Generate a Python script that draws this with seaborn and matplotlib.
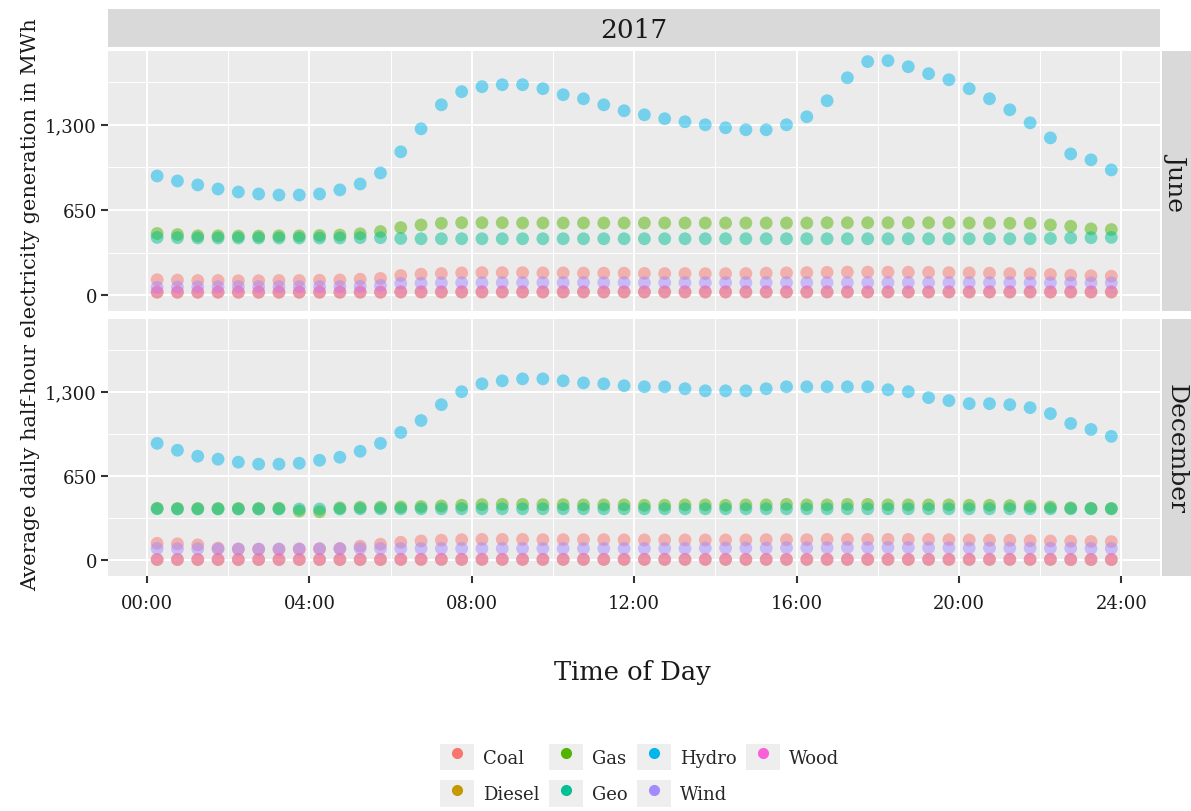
import pandas as pd
import seaborn as sns
import matplotlib.pyplot as plt
from matplotlib.lines import Line2D
from matplotlib.patches import Patch

# half-hour slots (midpoints, in hours)
hours = [0.25, 0.75, 1.25, 1.75, 2.25, 2.75, 3.25, 3.75, 4.25, 4.75, 5.25, 5.75,
         6.25, 6.75, 7.25, 7.75, 8.25, 8.75, 9.25, 9.75, 10.25, 10.75, 11.25, 11.75,
         12.25, 12.75, 13.25, 13.75, 14.25, 14.75, 15.25, 15.75, 16.25, 16.75, 17.25, 17.75,
         18.25, 18.75, 19.25, 19.75, 20.25, 20.75, 21.25, 21.75, 22.25, 22.75, 23.25, 23.75]

fuels = ["Coal", "Diesel", "Gas", "Geo", "Hydro", "Wind", "Wood"]
colors = ["#F8766D", "#C49A00", "#53B400", "#00C094", "#00B6EB", "#A58AFF", "#FB61D7"]

# June
coal_jun = [118, 115, 112, 112, 110, 110, 112, 112, 114, 116, 122, 128,
            150, 160, 165, 170, 172, 172, 172, 170, 170, 168, 168, 168,
            166, 165, 165, 164, 164, 165, 168, 170, 172, 174, 176, 176,
            176, 175, 174, 172, 170, 168, 165, 162, 158, 152, 148, 145]
diesel_jun = [22, 22, 22, 22, 22, 22, 22, 22, 22, 22, 22, 22,
              24, 24, 24, 24, 24, 24, 24, 24, 24, 24, 24, 24,
              24, 24, 24, 24, 24, 24, 24, 24, 24, 24, 24, 24,
              24, 24, 24, 24, 24, 24, 24, 24, 24, 24, 24, 24]
gas_jun = [470, 462, 452, 452, 450, 450, 452, 452, 455, 458, 468, 485,
           515, 535, 548, 552, 552, 552, 550, 550, 550, 550, 550, 550,
           550, 550, 550, 550, 550, 550, 550, 550, 550, 552, 552, 552,
           552, 552, 552, 552, 550, 550, 548, 548, 535, 525, 505, 500]
geo_jun = [440, 438, 436, 436, 436, 436, 436, 436, 436, 436, 438, 438,
           432, 430, 430, 430, 430, 430, 430, 430, 430, 430, 430, 430,
           430, 430, 430, 430, 430, 430, 430, 430, 430, 430, 430, 430,
           430, 430, 430, 430, 430, 430, 430, 430, 432, 436, 438, 440]
hydro_jun = [908, 870, 840, 809, 786, 771, 763, 763, 771, 802, 847, 931,
             1092, 1267, 1450, 1550, 1588, 1603, 1603, 1573, 1527, 1496, 1450, 1405,
             1374, 1344, 1321, 1298, 1275, 1260, 1260, 1298, 1359, 1481, 1656, 1779,
             1786, 1740, 1687, 1641, 1573, 1496, 1412, 1313, 1198, 1076, 1031, 954]
wind_jun = [60, 62, 64, 65, 66, 66, 66, 66, 66, 66, 68, 75,
            90, 92, 94, 95, 95, 96, 96, 96, 96, 96, 96, 96,
            96, 96, 96, 96, 96, 96, 96, 96, 96, 96, 96, 96,
            96, 96, 96, 96, 96, 96, 96, 96, 95, 95, 94, 94]
wood_jun = [25, 24, 24, 24, 24, 24, 24, 24, 24, 24, 25, 25,
            26, 26, 26, 26, 26, 26, 26, 26, 26, 26, 26, 26,
            26, 26, 26, 26, 26, 26, 26, 26, 26, 26, 26, 26,
            26, 26, 26, 26, 26, 26, 26, 26, 26, 26, 26, 26]

# December
coal_dec = [132, 128, 120, 95, 88, 86, 86, 88, 90, 92, 110, 125,
            140, 150, 156, 160, 162, 162, 162, 160, 160, 160, 160, 158,
            158, 158, 158, 158, 158, 158, 160, 160, 160, 162, 162, 162,
            162, 162, 162, 160, 158, 156, 155, 152, 150, 148, 146, 145]
diesel_dec = [6, 6, 6, 6, 6, 6, 6, 6, 6, 6, 6, 6,
              7, 7, 7, 7, 7, 7, 7, 7, 7, 7, 7, 7,
              7, 7, 7, 7, 7, 7, 7, 7, 7, 7, 7, 7,
              7, 7, 7, 7, 7, 7, 7, 7, 7, 6, 6, 6]
gas_dec = [402, 400, 400, 400, 400, 400, 402, 380, 375, 405, 410, 410,
           412, 415, 420, 425, 430, 432, 432, 430, 430, 428, 428, 428,
           425, 425, 428, 428, 425, 428, 428, 432, 428, 428, 432, 432,
           428, 428, 428, 428, 425, 425, 422, 418, 412, 405, 402, 400]
geo_dec = [398, 396, 396, 396, 396, 396, 396, 396, 396, 396, 398, 398,
           398, 398, 398, 398, 398, 398, 398, 398, 398, 398, 398, 398,
           398, 398, 398, 398, 398, 398, 398, 398, 398, 398, 398, 398,
           398, 398, 398, 398, 398, 398, 398, 398, 398, 398, 398, 398]
hydro_dec = [902, 849, 803, 780, 757, 742, 742, 749, 772, 795, 841, 902,
             986, 1078, 1200, 1300, 1361, 1384, 1399, 1399, 1384, 1368, 1361, 1346,
             1338, 1338, 1323, 1307, 1307, 1307, 1323, 1338, 1338, 1338, 1338, 1338,
             1315, 1300, 1254, 1231, 1208, 1208, 1200, 1177, 1131, 1055, 1009, 956]
wind_dec = [92, 90, 90, 88, 88, 88, 88, 88, 90, 90, 92, 92,
            92, 92, 92, 92, 92, 92, 92, 92, 92, 92, 92, 92,
            92, 92, 92, 95, 95, 95, 95, 98, 98, 98, 100, 100,
            100, 100, 98, 98, 96, 96, 95, 95, 94, 94, 92, 92]
wood_dec = [8, 8, 8, 8, 8, 8, 8, 8, 8, 8, 8, 8,
            9, 9, 9, 9, 9, 9, 9, 9, 9, 9, 9, 9,
            9, 9, 9, 9, 9, 9, 9, 9, 9, 9, 9, 9,
            9, 9, 9, 9, 9, 9, 9, 9, 9, 8, 8, 8]

june = [coal_jun, diesel_jun, gas_jun, geo_jun, hydro_jun, wind_jun, wood_jun]
december = [coal_dec, diesel_dec, gas_dec, geo_dec, hydro_dec, wind_dec, wood_dec]

rows = []
for month, series in [("June", june), ("December", december)]:
    for fuel, vals in zip(fuels, series):
        for h, v in zip(hours, vals):
            rows.append({"month": month, "fuel": fuel, "hour": h, "mwh": v})
df = pd.DataFrame(rows)

sns.set_theme(style="darkgrid")
plt.rcParams['font.family'] = ['DejaVu Serif']
txt = "#1A1A1A"

fig = plt.figure(figsize=(11.91, 8.12), dpi=100)

left, width = 0.0907, 0.8833
panels = {"June": [left, 0.6158, width, 0.3202],
          "December": [left, 0.2894, width, 0.3165]}

for i, month in enumerate(["June", "December"]):
    ax = fig.add_axes(panels[month])
    sub = df[df["month"] == month]
    sns.scatterplot(data=sub, x="hour", y="mwh", hue="fuel", hue_order=fuels,
                    palette=colors, s=85, alpha=0.5, linewidth=0, legend=False, ax=ax)
    ax.set_facecolor("#EBEBEB")
    ax.set_xlim(-0.96, 24.95)
    ax.set_ylim(-120, 1860)
    ax.set_xticks([0, 4, 8, 12, 16, 20, 24])
    ax.set_xticks([2, 6, 10, 14, 18, 22], minor=True)
    ax.set_yticks([0, 650, 1300])
    ax.set_yticks([325, 975, 1625], minor=True)
    ax.set_yticklabels(["0", "650", "1,300"])
    ax.grid(which="major", color="white", lw=1.4)
    ax.grid(which="minor", color="white", lw=0.7)
    for sp in ax.spines.values():
        sp.set_visible(False)
    ax.set_xlabel("")
    ax.set_ylabel("")
    ax.tick_params(axis="y", which="major", length=5, width=1.5, color="#333333",
                   labelsize=13, labelcolor=txt, pad=3, left=True)
    ax.tick_params(which="minor", length=0)
    if i == 0:
        ax.tick_params(axis="x", which="major", length=0, labelbottom=False)
    else:
        ax.set_xticklabels([f"{h:02d}:00" for h in [0, 4, 8, 12, 16, 20, 24]])
        ax.tick_params(axis="x", which="major", length=5, width=1.5, color="#333333",
                       labelsize=13, labelcolor=txt, pad=8, bottom=True)

    # facet strip on the right
    sax = fig.add_axes([0.9757, panels[month][1], 0.0243, panels[month][3]])
    sax.set_facecolor("#D9D9D9")
    sax.set_xticks([])
    sax.set_yticks([])
    for sp in sax.spines.values():
        sp.set_visible(False)
    sax.text(0.5, 0.5, month, rotation=-90, ha="center", va="center",
             fontsize=18, color=txt, transform=sax.transAxes)

# top strip
tax = fig.add_axes([left, 0.9409, width, 0.0468])
tax.set_facecolor("#D9D9D9")
tax.set_xticks([])
tax.set_yticks([])
for sp in tax.spines.values():
    sp.set_visible(False)
tax.text(0.5, 0.45, "2017", ha="center", va="center", fontsize=19,
         color=txt, transform=tax.transAxes)

fig.text(0.026, 0.625, "Average daily half-hour electricity generation in MWh",
         rotation=90, ha="center", va="center", fontsize=15, color=txt)
fig.text(0.531, 0.172, "Time of Day", ha="center", va="center", fontsize=18.5,
         color=txt)

handles = [(Patch(facecolor="#EEEEEE", edgecolor="none"),
            Line2D([], [], marker="o", ls="", color=c, markersize=7)) for c in colors]
fig.legend(handles, fuels, ncol=4, loc="center", bbox_to_anchor=(0.537, 0.044),
           frameon=False, fontsize=13, columnspacing=0.5, handletextpad=0.5,
           handlelength=1.9, handleheight=1.9, labelspacing=0.55)

fig.savefig("out.png", dpi=100)
